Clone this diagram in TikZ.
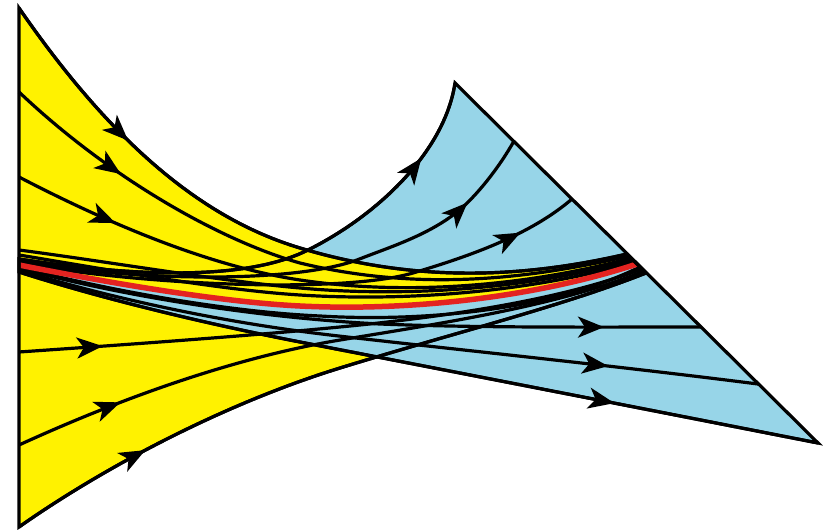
\documentclass[tikz,border=0pt]{standalone}
\usetikzlibrary{arrows.meta,decorations.markings}
\definecolor{yel}{RGB}{255,242,0}
\definecolor{sky}{RGB}{151,213,232}
\definecolor{redl}{RGB}{228,35,32}
\begin{document}
\begin{tikzpicture}[x=1pt,y=-1pt,
  flow/.style={draw=black,line width=3.2pt},
  tipat/.style={postaction={decorate},decoration={markings,mark=at position #1 with {\arrow{Stealth[length=26pt,width=21pt,inset=7pt]}}}},
  outline/.style={draw=black,line width=3.2pt,line join=miter}]
\useasboundingbox (0,0) rectangle (823,530);
\fill[white] (0,0) rectangle (823,530);
% yellow sheet (full)
\fill[yel] (19,8) -- (19,527) .. controls (100,470) and (220,405) .. (340,368) .. controls (450,334) and (560,307) .. (646,273) -- (627,254) .. controls (527,277) and (420,284) .. (300,248) .. controls (200,218) and (110,140) .. (19,8) -- cycle;
% blue sheet
\fill[sky] (19,259) .. controls (110,273) and (238,285) .. (308,250) .. controls (380,214) and (445,150) .. (455,83) -- (818,443) .. controls (650,410) and (450,371) .. (300,342) .. controls (200,322.5) and (100,298) .. (19,272) -- cycle;
% yellow sheet lies over the blue one above the red curve
\begin{scope}
\clip (0,0) -- (0,265) -- (19,265) .. controls (110,283) and (220,302) .. (300,306) .. controls (410,311.5) and (537,297) .. (637,264) -- (823,264) -- (823,0) -- cycle;
\fill[yel] (19,8) -- (19,527) .. controls (100,470) and (220,405) .. (340,368) .. controls (450,334) and (560,307) .. (646,273) -- (627,254) .. controls (527,277) and (420,284) .. (300,248) .. controls (200,218) and (110,140) .. (19,8) -- cycle;
\end{scope}
% yellow flow lines
\draw[flow,tipat=131pt] (19,92) .. controls (109,177.5) and (220,240.6) .. (300,263) .. controls (420,292) and (529,279) .. (629,256);
\draw[flow,tipat=107pt] (19,177) .. controls (109,223.8) and (210,266.5) .. (300,280) .. controls (410,296.5) and (531,285) .. (631,258);
\draw[flow] (19,250) .. controls (110,262) and (220,281) .. (300,288) .. controls (410,298) and (533,288) .. (633,260);
\draw[flow] (19,255) .. controls (110,270) and (220,290) .. (300,295) .. controls (410,302) and (535,291) .. (635,262);
\draw[flow,tipat=84pt] (19,352) .. controls (120,345) and (250,336) .. (350,326) .. controls (450,316) and (560,300) .. (642,269);
\draw[flow,tipat=110pt] (19,445) .. controls (100,408) and (220,360) .. (340,340) .. controls (450,322) and (560,305) .. (644,271);
% blue flow lines
\draw[flow,tipat=466pt] (19,261) .. controls (130,281) and (290,284) .. (357,260) .. controls (387,248) and (427,236) .. (457,212) .. controls (477,196) and (500,166) .. (514,141);
\draw[flow,tipat=511pt] (19,263) .. controls (140,285) and (340,294) .. (413,273) .. controls (470,256) and (530,235) .. (572,199);
\draw[flow] (19,267) .. controls (110,291) and (230,312) .. (320,316) .. controls (420,322) and (550,311) .. (640,267);
\draw[flow,tipat=590pt] (19,268) .. controls (120,296) and (260,318) .. (380,324) .. controls (480,328) and (600,327) .. (701,327);
\draw[flow,tipat=598pt] (19,270) .. controls (110,298) and (220,322) .. (330,335) .. controls (450,349) and (600,364) .. (758,384);
% red connecting curve
\draw[redl,line width=5.5pt] (19,265) .. controls (110,283) and (220,302) .. (300,306) .. controls (410,311.5) and (537,297) .. (637,264);
% outlines of the two sheets
\draw[outline] (19,8) -- (19,527) .. controls (100,470) and (220,405) .. (340,368) .. controls (450,334) and (560,307) .. (646,273) -- (627,254) .. controls (527,277) and (420,284) .. (300,248) .. controls (200,218) and (110,140) .. (19,8) -- cycle;
\draw[outline] (19,259) .. controls (110,273) and (238,285) .. (308,250) .. controls (380,214) and (445,150) .. (455,83) -- (818,443) .. controls (650,410) and (450,371) .. (300,342) .. controls (200,322.5) and (100,298) .. (19,272) -- cycle;
% arrows on the boundary curves
\draw[flow,tipat=172pt] (19,8) .. controls (110,140) and (200,218) .. (300,248) .. controls (420,284) and (527,277) .. (627,254);
\draw[flow,tipat=148pt] (19,527) .. controls (100,470) and (220,405) .. (340,368) .. controls (450,334) and (560,307) .. (646,273);
\draw[flow,tipat=440pt] (19,259) .. controls (110,273) and (238,285) .. (308,250) .. controls (380,214) and (445,150) .. (455,83);
\draw[flow,tipat=610pt] (19,272) .. controls (100,298) and (200,322.5) .. (300,342) .. controls (450,371) and (650,410) .. (818,443);
\end{tikzpicture}
\end{document}
